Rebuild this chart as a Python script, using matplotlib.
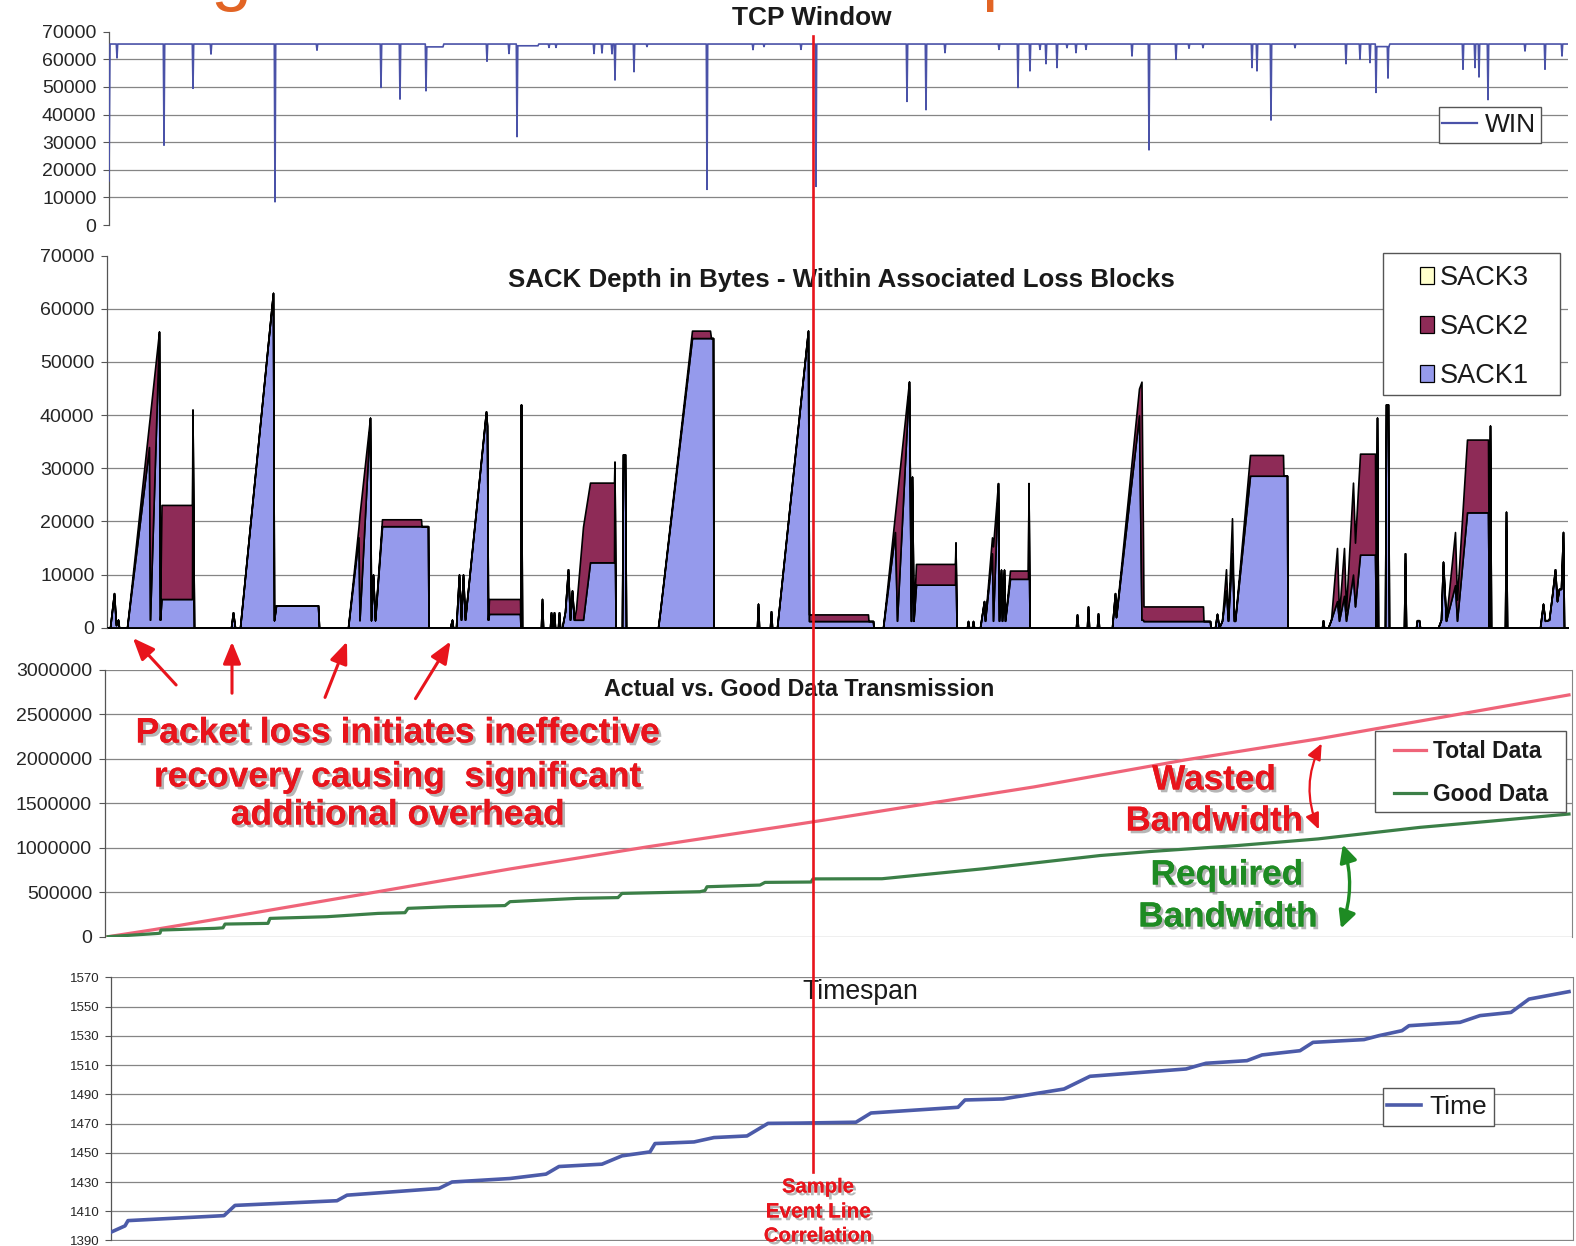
import matplotlib
matplotlib.use("Agg")
import matplotlib.pyplot as plt
import matplotlib.patheffects as pe
from matplotlib.patches import FancyArrowPatch, Patch, Rectangle
from matplotlib.lines import Line2D
import numpy as np

plt.rcParams['font.family'] = ['Liberation Sans', 'DejaVu Sans']

W, H = 1576, 1246

# ======================= DATA =======================
# shared time axis = sample index (same scale in all four panels)

# ---- TCP window ----
win_base = 65535
win_first = (109, 16000)
win_dip_t = [117, 164, 193, 211, 275, 317, 381, 400, 426, 487,
             509, 517, 549, 556, 594, 602, 612, 615, 634, 647,
             707, 753, 764, 801, 816, 907, 926, 945, 999, 1018,
             1030, 1040, 1046, 1057, 1067, 1076, 1086, 1132, 1149, 1176,
             1189, 1203, 1252, 1257, 1271, 1295, 1346, 1360, 1370, 1376,
             1388, 1463, 1475, 1479, 1488, 1525, 1545, 1562]
win_dip_v = [60500, 28900, 49500, 61900, 8400, 63300, 49800, 45600, 48600, 59300,
             62100, 32000, 64300, 64300, 62100, 62300, 62000, 52500, 55500, 64600,
             12900, 63500, 64600, 63600, 14000, 44750, 41750, 62400, 63600, 49800,
             55800, 63600, 58400, 57000, 64200, 62400, 63600, 61200, 27200, 60000,
             64000, 64200, 57000, 55800, 38000, 64200, 58400, 60000, 58800, 48000,
             53200, 56400, 57000, 53600, 45400, 63000, 56400, 61200]
win_shelf_t0 = [426, 517, 1376]
win_shelf_t1 = [443, 538, 1389]
win_shelf_v = [64500, 64900, 64600]

# ---- SACK depth (kB), stacked: SACK1 bottom, SACK2 on top, SACK3 empty ----
sack_t = [108, 110, 114, 116, 118, 119,
          127, 149, 150, 159, 160, 161.5, 192, 192.5, 194,
          231, 233, 235,
          240, 273, 274, 276, 318, 319,
          348, 358.5, 359.5, 370, 371, 373, 375, 382, 421, 421.5, 428, 428.5,
          450, 452, 453,
          456, 459, 461, 463, 465, 486, 487, 488, 489, 520, 520.5, 521, 522,
          541, 542, 543, 550, 551, 552, 553, 554, 555, 558, 559, 560,
          562, 565, 568, 570, 572, 574, 576, 583, 590, 614, 614.5, 615.5, 622, 623, 625, 626,
          658, 660, 692, 710, 711, 713, 713.5,
          757, 758, 759, 770, 771, 772,
          777, 808, 809, 868, 868.5, 873, 873.5,
          883, 895, 897, 909, 911, 912, 913.5, 916, 955, 955.5, 956.5,
          967, 968, 969, 972, 973, 974,
          980, 984, 985, 992, 993, 998, 999, 1001, 1002, 1004, 1005, 1010, 1028, 1028.5, 1029.5,
          1076, 1077, 1078, 1087, 1088, 1089, 1097, 1098, 1099,
          1112, 1115, 1116, 1139, 1141.5, 1143, 1143.5, 1203, 1203.5, 1210, 1210.5,
          1215, 1217, 1219, 1222, 1226, 1228, 1232, 1234, 1235, 1250, 1283, 1283.5, 1287, 1287.5,
          1322, 1323, 1324,
          1328, 1331, 1337, 1339, 1344, 1346, 1353, 1355, 1360, 1375, 1376, 1377, 1378, 1385, 1386, 1388, 1389,
          1404, 1405, 1406, 1416, 1417, 1419, 1420,
          1438, 1441, 1443, 1446, 1455, 1457, 1467, 1488, 1489, 1490, 1491,
          1505, 1506, 1507,
          1540, 1543, 1545, 1549, 1552, 1555, 1557, 1559, 1561, 1563, 1564, 1568]
sack1_kb = [0, 0, 6.5, 0.5, 1.5, 0,
            0, 34, 1.5, 55.7, 1.5, 5.4, 5.4, 41, 0,
            0, 2.9, 0,
            0, 63, 1.4, 4.2, 4.2, 0,
            0, 17, 1.4, 39.5, 1.4, 10, 1.4, 19.1, 19.1, 19.1, 19.1, 0,
            0, 1.5, 0,
            0, 10, 1.5, 10, 1.5, 40.7, 38, 1.5, 2.6, 2.6, 0, 42, 0,
            0, 5.4, 0, 0, 2.9, 0, 0, 2.9, 0, 0, 2.9, 0,
            0, 3, 11, 1.5, 7, 1.5, 1.5, 1.5, 12.3, 12.3, 31.2, 0, 0, 32.6, 32.6, 0,
            0, 3, 54.5, 54.5, 54.5, 54.5, 0,
            0, 4.5, 0, 0, 3.1, 0,
            0, 55.9, 1.25, 1.25, 1.25, 1.25, 0,
            0, 18, 1.3, 46.3, 1.3, 28.4, 1.3, 8.1, 8.1, 16, 0,
            0, 1.25, 0, 0, 1.25, 0,
            0, 5, 1.3, 14, 1.3, 27.2, 1.3, 10.9, 1.3, 10.9, 1.3, 9.2, 9.2, 27.2, 0,
            0, 2.5, 0, 0, 4, 0, 0, 2.7, 0,
            0, 6.5, 2, 40, 1.5, 1.5, 1.25, 1.25, 1.25, 1.25, 0,
            0, 2.6, 0, 1.3, 7, 1.3, 14, 1.3, 1.3, 28.6, 28.6, 28.6, 28.6, 0,
            0, 1.4, 0,
            0, 1.5, 5, 1.3, 6, 1.3, 10, 4, 13.75, 13.75, 0, 39.5, 0, 0, 42, 42, 0,
            0, 14, 0, 0, 1.4, 1.4, 0,
            0, 1.5, 12.4, 1.3, 8, 1.3, 21.7, 21.7, 0, 38, 0,
            0, 21.8, 0,
            0, 4.5, 1.3, 1.5, 6, 11, 5, 7.3, 7.3, 18, 0, 0]
sack2_kb = [0, 0, 0, 0, 0, 0,
            0, 4.3, 38.5, 0, 0, 17.7, 17.7, 0, 0,
            0, 0, 0,
            0, 0, 0, 0, 0, 0,
            0, 2, 19.8, 0, 0, 0, 0, 1.3, 1.3, 0, 0, 0,
            0, 0, 0,
            0, 0, 0, 0, 0, 0, 0, 0, 2.8, 2.8, 0, 0, 0,
            0, 0, 0, 0, 0, 0, 0, 0, 0, 0, 0, 0,
            0, 0, 0, 0, 0, 0, 2, 17.5, 15, 15, 0, 0, 0, 0, 0, 0,
            0, 0, 1.4, 1.4, 0, 0, 0,
            0, 0, 0, 0, 0, 0,
            0, 0, 1.25, 1.25, 0, 0, 0,
            0, 3.4, 23.6, 0, 0, 0, 0, 3.9, 3.9, 0, 0,
            0, 0, 0, 0, 0, 0,
            0, 0, 0, 3, 14, 0, 0, 0, 0, 0, 0, 1.55, 1.55, 0, 0,
            0, 0, 0, 0, 0, 0, 0, 0, 0,
            0, 0, 0, 5, 44.8, 15, 2.75, 2.75, 0, 0, 0,
            0, 0, 0, 0, 4, 0, 6.6, 0, 0, 3.9, 3.9, 0, 0, 0,
            0, 0, 0,
            0, 0, 10, 1, 9, 2, 17.3, 12, 19, 19, 0, 0, 0, 0, 0, 0, 0,
            0, 0, 0, 0, 0, 0, 0,
            0, 0, 0, 0, 10, 4, 13.7, 13.7, 0, 0, 0,
            0, 0, 0,
            0, 0, 0, 0, 0, 0, 0, 0, 0, 0, 0, 0]

# ---- Actual vs good data (bytes) ----
total_t = [108, 153, 235, 357, 510, 647, 780, 813, 932, 1034, 1186, 1318, 1440, 1569]
total_v = [0, 78000, 232000, 466000, 762000, 1010000, 1235000, 1292000, 1505000,
           1685000, 1990000, 2225000, 2465000, 2720000]
good_t = [108, 158, 160, 161, 215, 223, 225, 268, 270, 327,
          378, 405, 408, 449, 505, 510, 577, 618, 622, 700,
          705, 707, 760, 765, 811, 813, 882, 983, 1100, 1150,
          1237, 1318, 1420, 1491, 1569]
good_v = [0, 37000, 40000, 75000, 94000, 100000, 142000, 150000, 206000, 225000,
          262000, 270000, 319000, 337000, 350000, 394000, 431000, 440000, 487000, 506000,
          520000, 562000, 581000, 611000, 615000, 650000, 652000, 764000, 913000, 958000,
          1025000, 1100000, 1230000, 1300000, 1380000]

# ---- Timespan ----
time_t = [111, 125, 128, 224, 235, 337, 347, 439, 452, 510,
          546, 559, 602, 622, 650, 655, 694, 714, 747, 768,
          800, 856, 871, 958, 965, 1003, 1044, 1064, 1090, 1186,
          1206, 1247, 1262, 1300, 1313, 1364, 1379, 1402, 1409, 1460,
          1480, 1511, 1529, 1569]
time_v = [1395.7, 1400, 1403.6, 1407, 1414, 1417.2, 1421, 1425.6, 1430, 1432.4,
          1435.4, 1440.6, 1442.2, 1447.9, 1450.6, 1456.3, 1457.4, 1460.4, 1461.5, 1470.1,
          1470.3, 1470.9, 1477.2, 1481.1, 1486.1, 1486.8, 1491.4, 1493.6, 1502.3, 1507.3,
          1511.2, 1513, 1516.9, 1519.8, 1525.5, 1527.4, 1530.1, 1533.5, 1536.9, 1539.2,
          1543.8, 1546, 1555.1, 1560.2]

event_t = 813  # sample event line

win_ticks = [0, 10000, 20000, 30000, 40000, 50000, 60000, 70000]
sack_ticks = [0, 10000, 20000, 30000, 40000, 50000, 60000, 70000]
data_ticks = [0, 500000, 1000000, 1500000, 2000000, 2500000, 3000000]
time_ticks = [1390, 1410, 1430, 1450, 1470, 1490, 1510, 1530, 1550, 1570]

# ======================= STYLE =======================
C_WIN = '#4A52A8'
C_S1 = '#959AEC'
C_S2 = '#8E2B57'
C_S3 = '#FFFFCC'
C_TOT = '#EF6479'
C_GOOD = '#3B7F47'
C_TIME = '#4C5BA9'
C_RED = '#E8141C'
C_GREEN = '#1E8B23'
C_GRID = '#858585'
C_SPINE = '#555555'

fig = plt.figure(figsize=(W / 100, H / 100), dpi=100)
fig.patch.set_facecolor('white')


def F(x, y):
    return (x / W, 1 - y / H)


def add_ax(l, t, r, b):
    ax = fig.add_axes([l / W, 1 - b / H, (r - l) / W, (b - t) / H])
    ax.set_xlim(l, r)
    ax.patch.set_alpha(0)
    return ax


def style(ax, ylo, yhi, ticks, grid_vals, labelsize, pad=5):
    ax.set_ylim(ylo, yhi)
    ax.set_xticks([])
    ax.set_yticks(ticks)
    ax.set_yticklabels([str(v) for v in ticks])
    ax.tick_params(axis='y', direction='out', length=4, width=0.8, color=C_SPINE,
                   labelsize=labelsize, pad=pad, labelcolor='#262626')
    for g in grid_vals:
        ax.axhline(g, color=C_GRID, lw=0.9, zorder=0.5)
    for s in ['top', 'right', 'bottom']:
        ax.spines[s].set_visible(False)
    ax.spines['left'].set_color(C_SPINE)
    ax.spines['left'].set_linewidth(0.9)


# ---- Panel 1 : TCP window ----
ax1 = add_ax(109, 31.7, 1568, 225)
style(ax1, 0, 70000, win_ticks, win_ticks[1:-1], 14)


def shelf_level(t):
    for a, b, v in zip(win_shelf_t0, win_shelf_t1, win_shelf_v):
        if a <= t <= b:
            return v
    return win_base


pts = [win_first, (win_first[0] + 1, win_base), (1568, win_base)]
for t, v in zip(win_dip_t, win_dip_v):
    pts += [(t - 0.7, shelf_level(t - 0.7)), (t, v), (t + 0.7, shelf_level(t + 0.7))]
for a, b, v in zip(win_shelf_t0, win_shelf_t1, win_shelf_v):
    pts += [(a + 0.8, v), (b, v), (b + 0.8, win_base)]
pts.sort(key=lambda p: p[0])
ax1.plot([p[0] for p in pts], [p[1] for p in pts], color=C_WIN, lw=1.2, zorder=3)

# ---- Panel 2 : SACK depth ----
ax2 = add_ax(107, 255.7, 1568, 627.7)
style(ax2, 0, 70000, sack_ticks, sack_ticks[1:-1], 14)
st = np.array(sack_t, dtype=float)
s1 = np.array(sack1_kb) * 1000
s2 = np.array(sack2_kb) * 1000
ax2.fill_between(st, 0, s1, facecolor=C_S1, edgecolor='black', lw=1.2, zorder=2)
ax2.fill_between(st, s1, s1 + s2, facecolor=C_S2, edgecolor='black', lw=1.2, zorder=2.1)
ax2.axhline(0, color='black', lw=1.2, zorder=3)

# ---- Panel 3 : actual vs good ----
ax3 = add_ax(104.6, 670, 1572, 936.7)
style(ax3, 0, 3000000, data_ticks, data_ticks, 14)
ax3.spines['right'].set_visible(True)
ax3.spines['right'].set_color(C_GRID)
ax3.plot(total_t, total_v, color=C_TOT, lw=2.3, zorder=3)
ax3.plot(good_t, good_v, color=C_GOOD, lw=2.3, zorder=3)

# ---- Panel 4 : timespan ----
ax4 = add_ax(111, 977.3, 1573, 1240.5)
style(ax4, 1390, 1570, time_ticks, time_ticks, 9.5, pad=4)
ax4.spines['right'].set_visible(True)
ax4.spines['right'].set_color(C_GRID)
ax4.plot(time_t, time_v, color=C_TIME, lw=2.6, zorder=3)

# ---- titles ----
renderer = fig.canvas.get_renderer()


def fit(txt, target):
    w = txt.get_window_extent(renderer).width
    txt.set_fontsize(txt.get_fontsize() * target / w)


def ftext(x, y, s, target, **kw):
    t = fig.text(*F(x, y), s, ha='center', va='center', **kw)
    fit(t, target)
    return t


ftext(812, 18, 'TCP Window', 160, fontsize=16, fontweight='bold', color='#1a1a1a')
ftext(841, 280, 'SACK Depth in Bytes - Within Associated Loss Blocks', 666,
      fontsize=16, fontweight='bold', color='#1a1a1a')
ftext(799, 689, 'Actual vs. Good Data Transmission', 392, fontsize=15,
      fontweight='bold', color='#1a1a1a')
ftext(860, 992, 'Timespan', 116, fontsize=18, color='#1a1a1a')

# ---- legends (boxes + entries) ----


def legend_box(l, t, r, b):
    rect = Rectangle(F(l, b), (r - l) / W, (b - t) / H, transform=fig.transFigure,
                     facecolor='white', edgecolor=C_SPINE, lw=1.0, zorder=5)
    fig.add_artist(rect)


def legend(handles, labels, cx, cy, **kw):
    leg = fig.legend(handles, labels, loc='center', bbox_to_anchor=F(cx, cy),
                     frameon=False, borderpad=0, borderaxespad=0, **kw)
    leg.set_zorder(6)
    for tx in leg.get_texts():
        tx.set_color('#1a1a1a')
    return leg


legend_box(1439, 107, 1541, 143)
legend([Line2D([], [], color=C_WIN, lw=1.6)], ['WIN'], 1489, 125,
       fontsize=19, handlelength=1.3, handletextpad=0.3)

legend_box(1383, 253, 1560, 395)
legend([Patch(fc=C_S3, ec='black', lw=0.9), Patch(fc=C_S2, ec='black', lw=0.9),
        Patch(fc=C_S1, ec='black', lw=0.9)], ['SACK3', 'SACK2', 'SACK1'],
       1474, 327, fontsize=19.5, handlelength=0.55, handleheight=0.55,
       handletextpad=0.18, labelspacing=0.85)

legend_box(1375, 731, 1566, 812)
legend([Line2D([], [], color=C_TOT, lw=2.3), Line2D([], [], color=C_GOOD, lw=2.3)],
       ['Total Data', 'Good Data'], 1471, 773,
       prop={'weight': 'bold', 'size': 16.5}, handlelength=1.4, handletextpad=0.3,
       labelspacing=0.9)

legend_box(1383, 1088, 1494, 1126)
legend([Line2D([], [], color=C_TIME, lw=2.6)], ['Time'], 1437, 1107,
       fontsize=19, handlelength=1.3, handletextpad=0.3)

# ---- event line ----
fig.add_artist(Line2D([event_t / W, event_t / W], [1 - 36 / H, 1 - 1172 / H],
                      transform=fig.transFigure, color=C_RED, lw=1.9, zorder=4))

shadow = [pe.withSimplePatchShadow(offset=(2, -2), shadow_rgbFace='#7a7a7a', alpha=0.55),
          pe.Normal()]

for s, x, y, w in [('Sample', 818, 1187, 72), ('Event Line', 818, 1212, 105),
                   ('Correlation', 818, 1236, 108)]:
    t = ftext(x, y, s, w, fontsize=13, fontweight='bold', color=C_RED)
    t.set_path_effects(shadow)
    t.set_zorder(7)

# ---- annotations ----
for s, x, y, w in [('Packet loss initiates ineffective', 398, 733, 526),
                   ('recovery causing  significant', 398, 777, 489),
                   ('additional overhead', 398, 815, 335)]:
    t = ftext(x, y, s, w, fontsize=24, fontweight='bold', color=C_RED)
    t.set_path_effects(shadow)
    t.set_zorder(7)

for s, x, y, w, c in [('Wasted', 1214, 780, 124, C_RED), ('Bandwidth', 1214, 821, 178, C_RED),
                      ('Required', 1227, 875, 153, C_GREEN), ('Bandwidth', 1228, 917, 180, C_GREEN)]:
    t = ftext(x, y, s, w, fontsize=24, fontweight='bold', color=c)
    t.set_path_effects(shadow)
    t.set_zorder(7)

for (x0, y0), (x1, y1) in [((178, 687), (131, 636)), ((232, 696), (232, 639)),
                           ((324, 700), (348, 639)), ((414, 701), (452, 639))]:
    a = FancyArrowPatch(F(x0, y0), F(x1, y1), transform=fig.transFigure,
                        arrowstyle='-|>,head_length=1.1,head_width=0.45', mutation_scale=12,
                        color=C_RED, lw=2.2, zorder=7)
    fig.add_artist(a)

fig.add_artist(FancyArrowPatch(F(1323, 741), F(1320, 832), transform=fig.transFigure,
                               arrowstyle='<|-|>,head_length=0.8,head_width=0.35',
                               mutation_scale=12, connectionstyle='arc3,rad=0.25',
                               color=C_RED, lw=1.6, zorder=7))
fig.add_artist(FancyArrowPatch(F(1342, 842), F(1340, 931), transform=fig.transFigure,
                               arrowstyle='<|-|>,head_length=0.8,head_width=0.4',
                               mutation_scale=13, connectionstyle='arc3,rad=-0.18',
                               color=C_GREEN, lw=2.4, zorder=7))

# ---- cut-off slide title fragments at the very top ----
fig.text(211 / W, 1 + 3.5 / H, 'g', fontsize=53, color='#E26424', va='baseline', ha='left')
fig.text(981 / W, 1 + 3.5 / H, 'p', fontsize=53, color='#E26424', va='baseline', ha='left')

fig.savefig('out.png', dpi=100, facecolor='white')
